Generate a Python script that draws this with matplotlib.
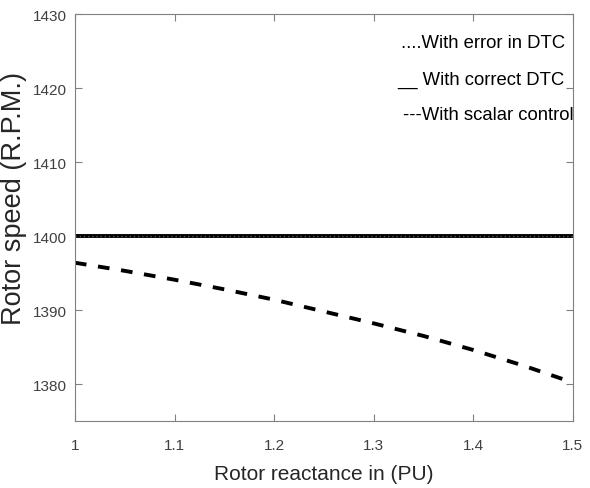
import matplotlib
matplotlib.use('Agg')
import matplotlib.pyplot as plt
import numpy as np

plt.rcParams['font.family'] = ['Liberation Sans', 'DejaVu Sans']

# rotor reactance (PU)
x_react = [1.0, 1.05, 1.1, 1.15, 1.2, 1.25, 1.3, 1.35, 1.4, 1.45, 1.5]
# speed with error in DTC / correct DTC (flat at 1400)
speed_err = [1400] * len(x_react)
speed_dtc = [1400] * len(x_react)
# speed with scalar control
speed_scalar = [1396.4, 1395.3, 1394.1, 1392.8, 1391.4, 1389.8, 1388.2, 1386.5, 1384.6, 1382.5, 1380.2]

x_ticks = [1, 1.1, 1.2, 1.3, 1.4, 1.5]
x_ticklabels = ['1', '1.1', '1.2', '1.3', '1.4', '1.5']
y_ticks = [1380, 1390, 1400, 1410, 1420, 1430]

legend_txt = ['....With error in DTC', '__ With correct DTC', '---With scalar control']

fig = plt.figure(figsize=(5.9, 4.89), dpi=100)
ax = fig.add_axes([0.127, 0.137, 0.844, 0.832])

ax.plot(x_react, speed_dtc, color='black', lw=2.8, solid_capstyle='butt')
ax.plot(x_react, speed_err, color='#555555', lw=1.0, ls=(0, (1, 2)))
ax.plot(x_react, speed_scalar, color='black', lw=2.8, ls=(0, (3, 3)))

ax.set_xlim(1, 1.5)
ax.set_ylim(1375, 1430)
ax.set_xticks(x_ticks)
ax.set_xticklabels(x_ticklabels)
ax.set_yticks(y_ticks)

for s in ax.spines.values():
    s.set_color('#808080')
    s.set_linewidth(0.8)
ax.tick_params(direction='in', top=True, right=True, length=5, width=0.8,
               color='#808080', labelcolor='#404040', labelsize=11)
ax.tick_params(axis='x', pad=12)
ax.tick_params(axis='y', pad=6)

ax.set_xlabel('Rotor reactance in (PU)', fontsize=15, color='#262626')
ax.xaxis.set_label_coords(0.5, -0.105)
ax.set_ylabel('Rotor speed (R.P.M.)', fontsize=19.5, color='#262626')
ax.yaxis.set_label_coords(-0.096, 0.55)

ypos = [0.931, 0.840, 0.754]
xpos = [0.984, 0.984, 1.002]
for t, yy, xx in zip(legend_txt, ypos, xpos):
    ax.text(xx, yy, t, transform=ax.transAxes, ha='right', va='center',
            fontsize=13.3, color='black')

fig.savefig('out.png', dpi=100)
